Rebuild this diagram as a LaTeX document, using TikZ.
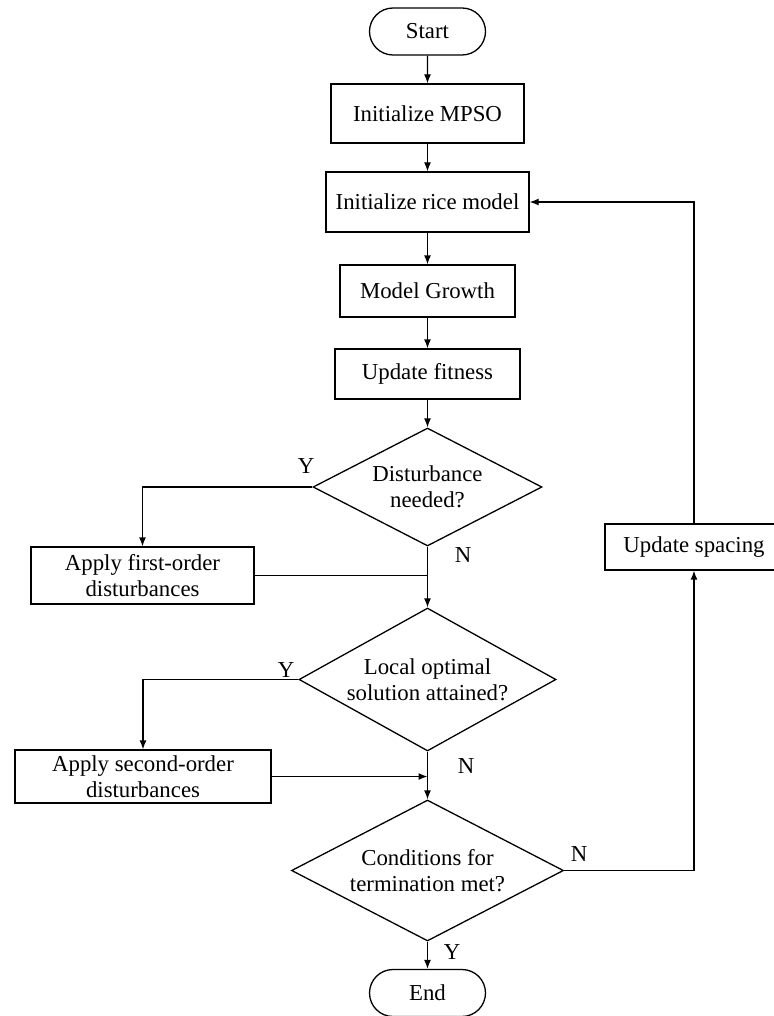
\documentclass[tikz,border=0pt]{standalone}
\usepackage{fontspec}
\setmainfont{Liberation Serif}
\usetikzlibrary{arrows.meta,shapes.geometric,shapes.misc}
\begin{document}
\begin{tikzpicture}[x=1pt,y=-1pt, font=\fontsize{22.8}{26}\selectfont,
  box/.style={draw, line width=1.3pt, rectangle, inner sep=0pt, align=center},
  term/.style={draw, line width=1.3pt, rounded rectangle, inner sep=0pt, minimum width=116pt, minimum height=47pt},
  dec/.style={draw, line width=1.3pt, diamond, inner sep=0pt, align=center},
  conn/.style={line width=1.3pt},
  arr/.style={conn, -{Latex[length=9pt,width=7pt]}},
  lab/.style={inner sep=0pt}]
\useasboundingbox (0,0) rectangle (773,1016);

\node[term] (start) at (427.5,31.5) {Start};
\node[box, minimum width=193pt, minimum height=59pt] (mpso) at (427.5,113.5) {Initialize MPSO};
\node[box, minimum width=203pt, minimum height=60pt] (rice) at (427.5,202) {Initialize rice model};
\node[box, minimum width=175pt, minimum height=52pt] (grow) at (427.5,291) {Model Growth};
\node[box, minimum width=185pt, minimum height=50pt] (fit) at (427.5,374) {Update fitness};
\node[dec, shape aspect=1.94, minimum width=229pt, minimum height=118pt] (d1) at (427.5,487) {Disturbance\\needed?};
\node[box, minimum width=223pt, minimum height=57pt] (first) at (142.5,575.5) {Apply first-order\\disturbances};
\node[dec, shape aspect=1.8, minimum width=257pt, minimum height=143pt] (d2) at (427.5,679.5) {Local optimal\\solution attained?};
\node[box, minimum width=256pt, minimum height=53pt] (second) at (143,776.5) {Apply second-order\\disturbances};
\node[dec, shape aspect=1.93, minimum width=272pt, minimum height=141pt] (d3) at (427.5,870.5) {Conditions for\\termination met?};
\node[term] (end) at (427.5,993) {End};
\node[box, minimum width=178pt, minimum height=46pt] (spacing) at (694,547) {Update spacing};

\draw[arr] (start) -- (mpso);
\draw[arr] (mpso) -- (rice);
\draw[arr] (rice) -- (grow);
\draw[arr] (grow) -- (fit);
\draw[arr] (fit) -- (d1);
\draw[arr] (d1.west) -| (first.north);
\draw[arr] (d1.south) -- (d2.north);
\draw[conn] (first.east) -- (first.east -| d1.south);
\draw[arr] (d2.west) -| (second.north);
\draw[arr] (d2.south) -- (d3.north);
\draw[arr] (second.east) -- (second.east -| d2.south);
\draw[arr] (d3.east) -| (spacing.south);
\draw[arr] (spacing.north) |- (rice.east);
\draw[arr] (d3.south) -- (end.north);

\node[lab] (y1) at (306,466) {Y};
\node[lab] (n1) at (463,555) {N};
\node[lab] (y2) at (286,670) {Y};
\node[lab] (n2) at (466,766) {N};
\node[lab] (n3) at (579,854) {N};
\node[lab] (y3) at (452,952) {Y};
\end{tikzpicture}
\end{document}
